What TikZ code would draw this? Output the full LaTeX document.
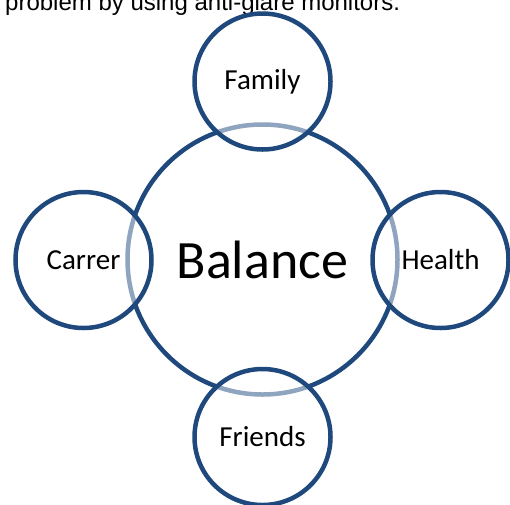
\documentclass[tikz,border=0pt]{standalone}
\usepackage{fontspec}
\setmainfont{Carlito}
\newfontfamily\arialfont{Liberation Sans}

\definecolor{ringblue}{RGB}{31,73,125}

\tikzset{
    ring/.style={ circle, draw=ringblue, line width=4.5pt, inner sep=0pt,},
    bigring/.style={ ring, minimum size=270pt, font=\fontsize{54}{62}\selectfont,},
    smallring/.style={ ring, minimum size=136pt, fill=white, fill opacity=0.5, text opacity=1, font=\fontsize{29}{34}\selectfont,},
  }

\begin{document}
\begin{tikzpicture}[x=1pt, y=-1pt]

\useasboundingbox (0,0) rectangle (510,504);
\clip (0,0) rectangle (510,504);

% line of text cut off above
  \node[anchor=base west, inner sep=0pt, font=\arialfont\fontsize{24}{28}\selectfont] (topline) at (5,10) {problem by using anti-glare monitors.};

% centre
  \node[bigring] (balance) at (262.5,259.5) {Balance};

% the four around it
  \node[smallring] (family)  at (262.5,81.5) {Family};
  \node[smallring] (carrer)  at (83.5,260)   {Carrer};
  \node[smallring] (health)  at (440.5,260)  {Health};
  \node[smallring] (friends) at (262.5,437)  {Friends};

\end{tikzpicture}
\end{document}
